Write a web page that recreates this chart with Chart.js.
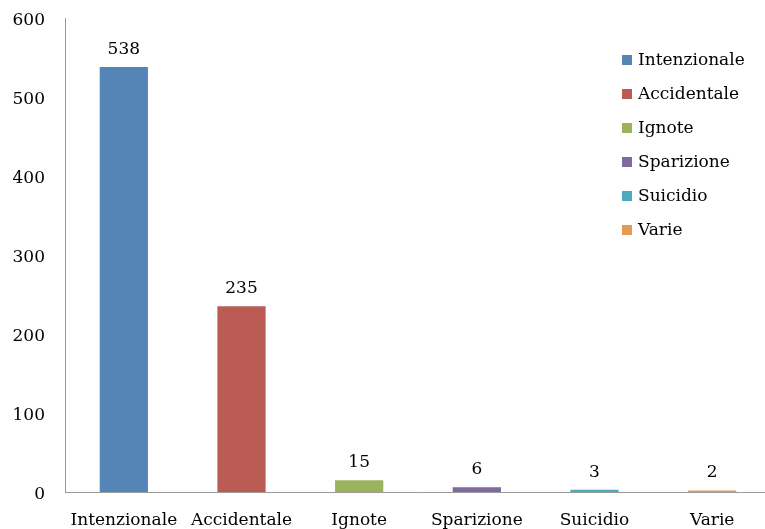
<!DOCTYPE html>
<html>
<head>
<meta charset="utf-8">
<script src="https://cdn.jsdelivr.net/npm/chart.js@4/dist/chart.umd.min.js"></script>
<style>
html,body{margin:0;padding:0;overflow:hidden;background:#fff;}
#wrap{width:771px;height:529px;position:relative;}
</style>
</head>
<body>
<div id="wrap"><canvas id="c"></canvas></div>
<script>
const categories = ["Intenzionale", "Accidentale", "Ignote", "Sparizione", "Suicidio", "Varie"];
const values = [538, 235, 15, 6, 3, 2];
const colors = ["#5585B6", "#BA5C53", "#9CB35E", "#8068A0", "#4EA8BE", "#E59A52"];
const yTicks = [0, 100, 200, 300, 400, 500, 600];

const FONT = "'DejaVu Serif', serif";

const labelPlugin = {
  id: 'valueLabels',
  afterDatasetsDraw(chart) {
    const ctx = chart.ctx;
    const meta = chart.getDatasetMeta(0);
    ctx.save();
    ctx.font = "17px " + FONT;
    ctx.fillStyle = "#000";
    ctx.textAlign = "center";
    ctx.textBaseline = "bottom";
    meta.data.forEach((bar, i) => {
      ctx.fillText(String(values[i]), bar.x, bar.y - 9);
    });
    ctx.restore();
  }
};

const legendPlugin = {
  id: 'insideLegend',
  afterDraw(chart) {
    const ctx = chart.ctx;
    ctx.save();
    ctx.font = "17px " + FONT;
    ctx.textBaseline = "middle";
    ctx.textAlign = "left";
    categories.forEach((c, i) => {
      const y = 60 + i * 34;
      ctx.fillStyle = colors[i];
      ctx.fillRect(622, y - 5, 10, 10);
      ctx.fillStyle = "#000";
      ctx.fillText(c, 638, y + 1);
    });
    ctx.restore();
  }
};

new Chart(document.getElementById('c'), {
  type: 'bar',
  data: {
    labels: categories,
    datasets: [{
      data: values,
      backgroundColor: colors,
      barPercentage: 0.41,
      categoryPercentage: 1.0
    }]
  },
  options: {
    responsive: true,
    maintainAspectRatio: false,
    animation: false,
    devicePixelRatio: 1,
    layout: { padding: { top: 18, left: 0, right: 0, bottom: 0 } },
    plugins: { legend: { display: false }, tooltip: { enabled: false } },
    scales: {
      x: {
        grid: { display: false, drawTicks: false },
        border: { display: true, color: "#9a9a9a", width: 1 },
        ticks: { color: "#000", font: { family: FONT, size: 17 }, padding: 18, maxRotation: 0 },
        afterFit(s) { s.height = 37; s.paddingLeft = 0; s.paddingRight = 0; }
      },
      y: {
        min: 0, max: 600,
        afterBuildTicks(s) { s.ticks = yTicks.map(v => ({ value: v })); },
        grid: { display: false, drawTicks: false },
        border: { display: true, color: "#9a9a9a", width: 1 },
        ticks: { color: "#000", font: { family: FONT, size: 17 }, padding: 20, labelOffset: 3 },
        afterFit(s) { s.width = 65; s.paddingTop = 0; s.paddingBottom = 0; }
      }
    }
  },
  plugins: [labelPlugin, legendPlugin]
});
</script>
</body>
</html>
